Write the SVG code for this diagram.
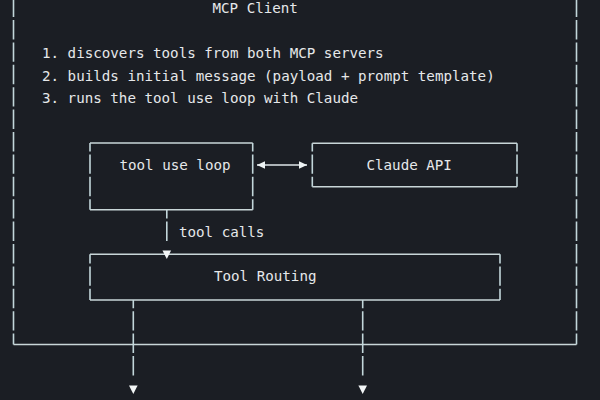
<svg xmlns="http://www.w3.org/2000/svg" width="600" height="400" viewBox="0 0 600 400">
<defs>
<style>
.t{font-family:"DejaVu Sans Mono","Liberation Mono",monospace;font-size:14.2px;fill:#e6e8ea}
.h{stroke:#c9d6d8;stroke-width:1.6;fill:none}
.v{stroke:#c2d6da;stroke-width:1.6;fill:none;stroke-dasharray:19.4 3}
.c{stroke:#dfe6e8;stroke-width:1.6;fill:none}
</style>
<marker id="dbl" markerUnits="userSpaceOnUse" orient="auto-start-reverse" overflow="visible" markerWidth="10" markerHeight="10" refX="0" refY="0">
<path d="M0,0 L-8,-3.8 L-8,3.8 Z" fill="#eef3f4"/>
</marker>
<marker id="down" markerUnits="userSpaceOnUse" orient="auto" overflow="visible" markerWidth="20" markerHeight="10" refX="0" refY="0">
<path d="M8.5,-4.3 L17,0 L8.5,4.3 Z" fill="#f2f5f6"/>
</marker>
</defs>
<rect width="600" height="400" fill="#1b1e24"/>

<g id="mcp-client">
<path class="v" d="M13.5,-2.4 V344.5" stroke-dashoffset="0"/>
<path class="v" d="M576.5,-2.4 V344.5" stroke-dashoffset="0"/>
<path class="h" d="M13.5,344.5 H576.5"/>
<text class="t" x="212.5" y="13">MCP Client</text>
<text class="t" x="42" y="58">1. discovers tools from both MCP servers</text>
<text class="t" x="42" y="80.5">2. builds initial message (payload + prompt template)</text>
<text class="t" x="42" y="102.5">3. runs the tool use loop with Claude</text>
</g>

<g id="tool-use-loop">
<path class="h" d="M90,143 H252.7 M90,209.8 H252.7"/>
<path class="v" d="M90,143 V209.8 M252.7,143 V209.8" stroke-dashoffset="11"/>
<text class="t" x="119.5" y="170">tool use loop</text>
</g>

<g id="claude-api">
<path class="h" d="M312.3,143.3 H517 M312.3,186.8 H517"/>
<path class="v" d="M312.3,143.3 V186.8 M517,143.3 V186.8" stroke-dashoffset="11.3"/>
<text class="t" x="366.5" y="170">Claude API</text>
</g>

<g id="tool-routing">
<path class="h" d="M90,254.3 H500 M90,300 H500"/>
<path class="v" d="M90,254.3 V300 M500,254.3 V300" stroke-dashoffset="10.3"/>
<text class="t" x="214" y="280.5">Tool Routing</text>
</g>

<g id="connectors">
<path class="c" d="M257,165 H307" marker-start="url(#dbl)" marker-end="url(#dbl)"/>
<path class="v" d="M166.8,210 V242" stroke-dashoffset="10.8" marker-end="url(#down)"/>
<text class="t" x="179" y="237">tool calls</text>
<path class="v" d="M133.3,300 V377" stroke-dashoffset="11.2" marker-end="url(#down)"/>
<path class="v" d="M362.7,300 V377" stroke-dashoffset="11.2" marker-end="url(#down)"/>
</g>
</svg>
